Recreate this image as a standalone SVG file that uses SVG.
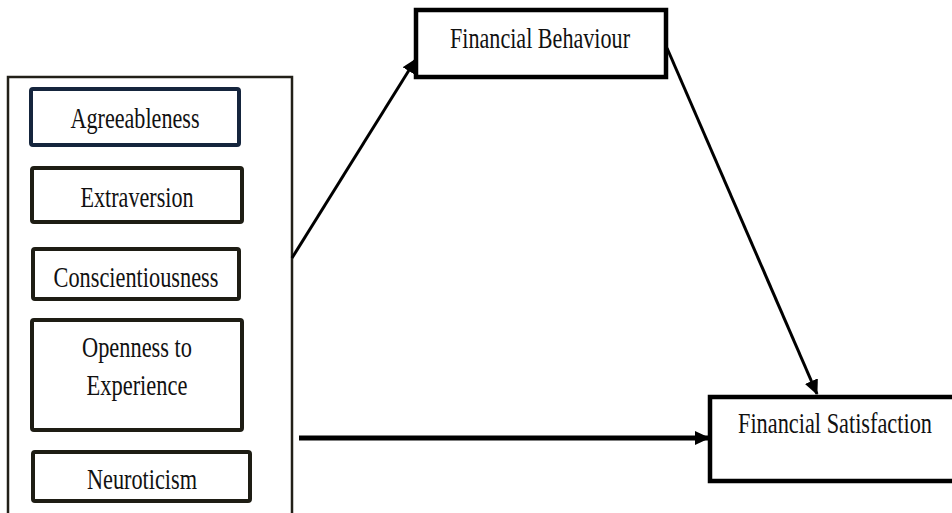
<svg xmlns="http://www.w3.org/2000/svg" width="952" height="513" viewBox="0 0 952 513">
<defs>
<style>
.t{font-family:"Liberation Serif","Times New Roman",serif;font-size:29px;fill:#111;text-anchor:middle}
.box{fill:#fff;stroke:#1e1d14;stroke-width:4}
.big{fill:#fff;stroke:#000;stroke-width:4.5}
.con{stroke:#000;fill:none}
</style>
<marker id="ah" markerUnits="userSpaceOnUse" markerWidth="16" markerHeight="14" refX="14" refY="7" orient="auto">
<path d="M0,0 L15,7 L0,14 Z" fill="#000"/>
</marker>
</defs>
<rect width="952" height="513" fill="#fff"/>
<g id="traits">
<path d="M8,520 L8,77 L292,77 L292,520" fill="none" stroke="#222018" stroke-width="2.5"/>
</g>
<g id="agreeableness">
<rect x="31" y="89" width="208" height="56" rx="2" class="box" style="stroke:#15253d"/>
<text x="135" y="128" class="t" textLength="129" lengthAdjust="spacingAndGlyphs">Agreeableness</text>
</g>
<g id="extraversion">
<rect x="32" y="168" width="210" height="54" rx="2" class="box"/>
<text x="137" y="207" class="t" textLength="113" lengthAdjust="spacingAndGlyphs">Extraversion</text>
</g>
<g id="conscientiousness">
<rect x="33" y="249" width="206" height="50" rx="2" class="box"/>
<text x="136" y="287" class="t" textLength="165" lengthAdjust="spacingAndGlyphs">Conscientiousness</text>
</g>
<g id="openness">
<rect x="32" y="320" width="210" height="110" rx="2" class="box"/>
<text x="137" y="357" class="t" textLength="110" lengthAdjust="spacingAndGlyphs">Openness to</text>
<text x="137" y="395" class="t" textLength="101" lengthAdjust="spacingAndGlyphs">Experience</text>
</g>
<g id="neuroticism">
<rect x="33" y="452" width="217" height="49" rx="2" class="box"/>
<text x="142" y="489" class="t" textLength="110" lengthAdjust="spacingAndGlyphs">Neuroticism</text>
</g>
<g id="financial-behaviour">
<rect x="416" y="10" width="250" height="67" class="big"/>
<text x="540" y="48" class="t" textLength="180" lengthAdjust="spacingAndGlyphs">Financial Behaviour</text>
</g>
<g id="financial-satisfaction">
<path d="M952,397 L710,397 L710,481 L952,481" class="big"/>
<text x="835" y="433" class="t" textLength="194" lengthAdjust="spacingAndGlyphs">Financial Satisfaction</text>
</g>
<g id="connectors">
<line x1="292" y1="258" x2="416" y2="59" class="con" stroke-width="3" marker-end="url(#ah)"/>
<line x1="667" y1="48" x2="817" y2="394" class="con" stroke-width="3" marker-end="url(#ah)"/>
<line x1="299" y1="438" x2="709" y2="438" class="con" stroke-width="5" marker-end="url(#ah)"/>
</g>
</svg>
